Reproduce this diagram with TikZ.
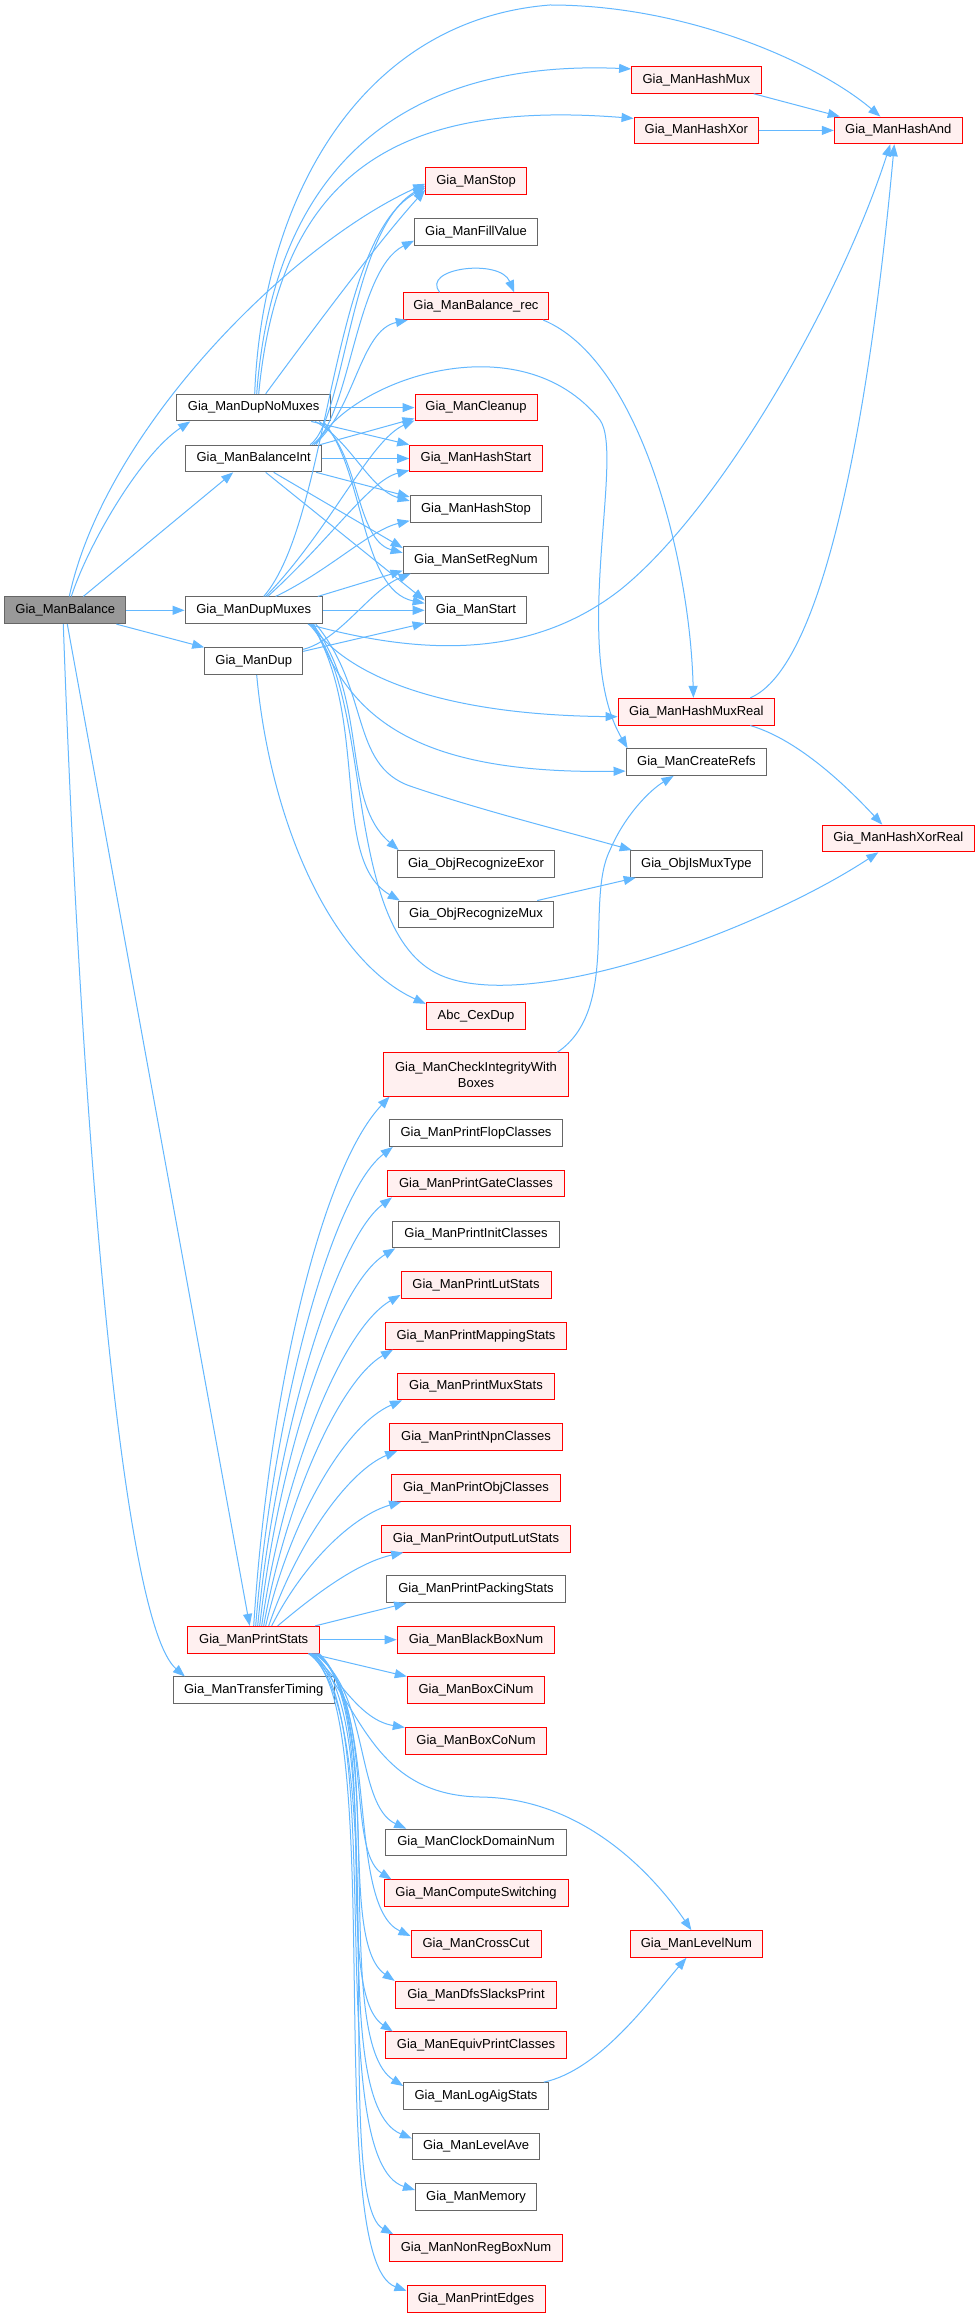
\documentclass[tikz,border=0pt]{standalone}
\usepackage{fontspec}
\setmainfont{Liberation Sans}
\usetikzlibrary{arrows.meta,calc}
\definecolor{ecol}{HTML}{63B8FF}
\definecolor{nred}{HTML}{FF0000}
\definecolor{npink}{HTML}{FFF0F0}
\definecolor{ngray}{HTML}{666666}
\definecolor{rootfill}{HTML}{999999}
\newcommand{\nodefont}{\fontsize{13}{16}\selectfont}
\begin{document}
\begin{tikzpicture}[x=1pt,y=-1pt,
  nd/.style={draw=ngray, fill=white, line width=1pt, minimum height=26.7pt, inner sep=0pt, font=\nodefont, text=black},
  rd/.style={nd, draw=nred, fill=npink},
  rootnd/.style={nd, fill=rootfill, draw=ngray},
  edg/.style={draw=ecol, line width=1pt, -{Triangle[length=12pt,width=9pt]}}]
\fill[white] (0,0) rectangle (979,2317);
\useasboundingbox (0,0) rectangle (979,2317);

% column 1 & 2
\node[rootnd, minimum width=121.3pt] (root) at (65.3,610.3) {Gia\_ManBalance};
\node[nd, minimum width=154pt] (dnm) at (253.7,407.6) {Gia\_ManDupNoMuxes};
\node[nd, minimum width=136pt] (bi) at (253.7,458.5) {Gia\_ManBalanceInt};
\node[nd, minimum width=137.3pt] (dm) at (253.7,610.3) {Gia\_ManDupMuxes};
\node[nd, minimum width=98pt] (dup) at (253.7,661.2) {Gia\_ManDup};
\node[rd, minimum width=132pt] (ps) at (253.7,1639.7) {Gia\_ManPrintStats};
\node[nd, minimum width=160.7pt] (tt) at (253.7,1690.3) {Gia\_ManTransferTiming};

% column 3
\node[rd, minimum width=100.6pt] (stop) at (476,180.8) {Gia\_ManStop};
\node[nd, minimum width=123pt] (fillv) at (476,231.7) {Gia\_ManFillValue};
\node[rd, minimum width=145.4pt] (brec) at (476,306.2) {Gia\_ManBalance\_rec};
\node[rd, minimum width=122pt] (clean) at (476,407.6) {Gia\_ManCleanup};
\node[rd, minimum width=132.6pt] (hstart) at (476,458.5) {Gia\_ManHashStart};
\node[nd, minimum width=131.7pt] (hstop) at (476,508.9) {Gia\_ManHashStop};
\node[nd, minimum width=145.7pt] (setreg) at (476,559.8) {Gia\_ManSetRegNum};
\node[nd, minimum width=101.7pt] (mstart) at (476,610.3) {Gia\_ManStart};
\node[nd, minimum width=157.7pt] (rexor) at (476,863.9) {Gia\_ObjRecognizeExor};
\node[nd, minimum width=155.4pt] (rmux) at (476,914.4) {Gia\_ObjRecognizeMux};
\node[rd, minimum width=99.7pt] (cex) at (476,1015.7) {Abc\_CexDup};
\node[rd, minimum width=185.7pt, minimum height=43.3pt, align=center] (cib) at (476,1074.4) {Gia\_ManCheckIntegrityWith\\Boxes};
\node[nd, minimum width=173.4pt] (flop) at (476,1133.1) {Gia\_ManPrintFlopClasses};
\node[rd, minimum width=177pt] (gate) at (476,1183.6) {Gia\_ManPrintGateClasses};
\node[nd, minimum width=166.6pt] (init) at (476,1234.5) {Gia\_ManPrintInitClasses};
\node[rd, minimum width=150pt] (lut) at (476,1284.9) {Gia\_ManPrintLutStats};
\node[rd, minimum width=181pt] (map) at (476,1335.8) {Gia\_ManPrintMappingStats};
\node[rd, minimum width=157pt] (pmux) at (476,1386.5) {Gia\_ManPrintMuxStats};
\node[rd, minimum width=172.6pt] (npn) at (476,1437.2) {Gia\_ManPrintNpnClasses};
\node[rd, minimum width=168.6pt] (obj) at (476,1488) {Gia\_ManPrintObjClasses};
\node[rd, minimum width=188.6pt] (olut) at (476,1538.7) {Gia\_ManPrintOutputLutStats};
\node[nd, minimum width=178.6pt] (pack) at (476,1589.3) {Gia\_ManPrintPackingStats};
\node[rd, minimum width=157.7pt] (bbox) at (476,1639.7) {Gia\_ManBlackBoxNum};
\node[rd, minimum width=137.4pt] (boxci) at (476,1690.3) {Gia\_ManBoxCiNum};
\node[rd, minimum width=141.4pt] (boxco) at (476,1741.3) {Gia\_ManBoxCoNum};
\node[nd, minimum width=180.6pt] (clk) at (476,1842.5) {Gia\_ManClockDomainNum};
\node[rd, minimum width=184pt] (csw) at (476,1893.3) {Gia\_ManComputeSwitching};
\node[rd, minimum width=130pt] (cut) at (476,1944) {Gia\_ManCrossCut};
\node[rd, minimum width=161.7pt] (dfs) at (476,1994.7) {Gia\_ManDfsSlacksPrint};
\node[rd, minimum width=181.4pt] (equiv) at (476,2045.3) {Gia\_ManEquivPrintClasses};
\node[nd, minimum width=144.6pt] (logaig) at (476,2096) {Gia\_ManLogAigStats};
\node[nd, minimum width=127.4pt] (lave) at (476,2146.5) {Gia\_ManLevelAve};
\node[nd, minimum width=121pt] (mem) at (476,2197) {Gia\_ManMemory};
\node[rd, minimum width=172.6pt] (nonreg) at (476,2248) {Gia\_ManNonRegBoxNum};
\node[rd, minimum width=138pt] (pedges) at (476,2298.7) {Gia\_ManPrintEdges};

% column 4
\node[rd, minimum width=129.6pt] (hmux) at (696.4,79.9) {Gia\_ManHashMux};
\node[rd, minimum width=124.7pt] (hxor) at (696.4,130.4) {Gia\_ManHashXor};
\node[rd, minimum width=156.7pt] (hmr) at (696.4,711.7) {Gia\_ManHashMuxReal};
\node[nd, minimum width=140.7pt] (cref) at (696.4,762.1) {Gia\_ManCreateRefs};
\node[nd, minimum width=132.4pt] (ismux) at (696.4,863.9) {Gia\_ObjIsMuxType};
\node[rd, minimum width=132.7pt] (lnum) at (696.4,1944) {Gia\_ManLevelNum};

% column 5
\node[rd, minimum width=128pt] (hand) at (898.3,130.4) {Gia\_ManHashAnd};
\node[rd, minimum width=151.7pt] (hxr) at (898.3,838.5) {Gia\_ManHashXorReal};

% ---- edges from root
\draw[edg] ($(root.north)+(6,0)$) .. controls (88,545) and (140,455) .. ($(dnm.south west)+(14,0)$);
\draw[edg] ($(root.north)+(18,0)$) -- ($(bi.south west)+(48,0)$);
\draw[edg] (root) -- (dm);
\draw[edg] ($(root.south east)+(-10,0)$) -- (dup.north west);
\draw[edg] ($(root.north)+(4,0)$) .. controls (105,430) and (290,245) .. ($(stop.west)+(0,3)$);
\draw[edg] ($(root.south)+(2,0)$) -- ($(ps.north)+(-4,0)$);
\draw[edg] ($(root.south)+(-2,0)$) .. controls (80,1100) and (120,1620) .. ($(tt.north west)+(12,0)$);

% ---- Gia_ManDupNoMuxes
\draw[edg] ($(dnm.north)+(1,0)$) .. controls (262,200) and (360,20) .. (550,5) .. controls (690,5) and (820,65) .. ($(hand.north)+(-18,0)$);
\draw[edg] ($(dnm.north)+(3,0)$) .. controls (275,150) and (420,60) .. ($(hmux.west)+(0,-11)$);
\draw[edg] ($(dnm.north)+(5,0)$) .. controls (280,170) and (400,100) .. ($(hxor.west)+(0,-12)$);
\draw[edg] ($(dnm.north)+(12,0)$) .. controls (320,320) and (380,240) .. ($(stop.west)+(0,9)$);
\draw[edg] (dnm) -- (clean);
\draw[edg] ($(dnm.south east)+(-20,0)$) -- (hstart.north west);
\draw[edg] ($(dnm.south east)+(-16,0)$) .. controls (350,440) and (370,490) .. ($(hstop.west)+(0,-8)$);
\draw[edg] ($(dnm.south east)+(-12,0)$) .. controls (360,450) and (355,540) .. ($(setreg.west)+(0,-7)$);
\draw[edg] ($(dnm.south east)+(-8,0)$) .. controls (365,470) and (360,590) .. ($(mstart.west)+(0,-7)$);

% ---- Gia_ManBalanceInt
\draw[edg] ($(bi.north east)+(-12,0)$) .. controls (345,420) and (350,230) .. ($(stop.west)+(0,5)$);
\draw[edg] ($(bi.north east)+(-10,0)$) .. controls (350,420) and (355,270) .. ($(fillv.west)+(0,9)$);
\draw[edg] ($(bi.north east)+(-8,0)$) .. controls (355,410) and (360,330) .. ($(brec.south west)+(5,0)$);
\draw[edg] ($(bi.north east)+(-6,0)$) .. controls (350,380) and (520,320) .. (600,420) .. controls (625,455) and (570,650) .. ($(cref.north west)+(2,0)$);
\draw[edg] ($(bi.north east)+(-2,0)$) -- ($(clean.south west)+(0,-3)$);
\draw[edg] (bi) -- (hstart);
\draw[edg] ($(bi.south east)+(-6,0)$) -- ($(hstop.west)+(0,-12)$);
\draw[edg] ($(bi.south)+(20,0)$) -- ($(setreg.north west)+(0,2)$);
\draw[edg] ($(bi.south)+(12,0)$) -- ($(mstart.north west)+(0,4)$);

% ---- Gia_ManDupMuxes
\draw[edg] ($(dm.north)+(10,0)$) .. controls (330,520) and (330,240) .. ($(stop.west)+(0,7)$);
\draw[edg] ($(dm.north)+(12,0)$) .. controls (330,530) and (370,440) .. ($(clean.south west)+(0,-1)$);
\draw[edg] ($(dm.north)+(14,0)$) .. controls (330,540) and (370,480) .. ($(hstart.south west)+(0,-2)$);
\draw[edg] ($(dm.north)+(22,0)$) .. controls (330,570) and (370,530) .. ($(hstop.south west)+(0,-2)$);
\draw[edg] ($(dm.north east)+(-5,0)$) -- ($(setreg.south west)+(0,-3)$);
\draw[edg] (dm) -- (mstart);
\draw[edg] ($(dm.south east)+(-15,0)$) .. controls (420,655) and (530,660) .. (620,590) .. controls (720,510) and (840,300) .. ($(hand.south)+(-8,0)$);
\draw[edg] ($(dm.south east)+(-12,0)$) .. controls (350,680) and (450,715) .. ($(hmr.west)+(0,5)$);
\draw[edg] ($(dm.south east)+(-9,0)$) .. controls (345,700) and (390,775) .. ($(cref.west)+(0,9)$);
\draw[edg] ($(dm.south east)+(-7,0)$) .. controls (370,690) and (350,765) .. (410,786) .. controls (480,810) and (560,830) .. ($(ismux.north west)+(2,0)$);
\draw[edg] ($(dm.south east)+(-10,0)$) .. controls (370,700) and (340,800) .. ($(rexor.north west)+(2,0)$);
\draw[edg] ($(dm.south east)+(-11,0)$) .. controls (370,720) and (330,860) .. ($(rmux.north west)+(2,0)$);
\draw[edg] ($(dm.south east)+(-14,0)$) .. controls (375,690) and (340,930) .. (440,975) .. controls (530,1015) and (760,930) .. ($(hxr.south)+(-20,0)$);

% ---- Gia_ManDup
\draw[edg] ($(dup.north east)+(0,2)$) .. controls (340,640) and (370,590) .. ($(setreg.south west)+(8,0)$);
\draw[edg] ($(dup.north east)+(0,4)$) -- ($(mstart.south west)+(0,-1)$);
\draw[edg] ($(dup.south)+(3,0)$) .. controls (270,820) and (330,960) .. ($(cex.north west)+(0,2)$);

% ---- misc
\draw[edg] ($(brec.north west)+(37,0)$) .. controls (420,268) and (500,258) .. ($(brec.north east)+(-35,0)$);
\draw[edg] ($(brec.south east)+(-6,0)$) .. controls (640,360) and (690,560) .. ($(hmr.north)+(-3,0)$);
\draw[edg] ($(hmux.south east)+(-8,0)$) -- ($(hand.north west)+(6,0)$);
\draw[edg] (hxor) -- (hand);
\draw[edg] ($(hmr.north east)+(-25,0)$) .. controls (840,660) and (880,300) .. ($(hand.south)+(-4,0)$);
\draw[edg] ($(hmr.south east)+(-25,0)$) .. controls (800,740) and (850,790) .. ($(hxr.north)+(-16,0)$);
\draw[edg] ($(rmux.north east)+(-17,0)$) -- ($(ismux.south west)+(6,0)$);
\draw[edg] ($(cib.north east)+(-12,0)$) .. controls (620,1010) and (585,900) .. (610,850) .. controls (625,815) and (650,790) .. ($(cref.south west)+(48,0)$);
\draw[edg] ($(logaig.north east)+(-5,0)$) .. controls (600,2070) and (650,2000) .. ($(lnum.south)+(-10,0)$);

% ---- Gia_ManPrintStats upper
\draw[edg] (ps.north) .. controls (268,1400) and (320,1170) .. ($(cib.south west)+(7,0)$);
\draw[edg] ($(ps.north)+(2,0)$) .. controls (272,1420) and (330,1195) .. ($(flop.south west)+(4,0)$);
\draw[edg] ($(ps.north)+(4,0)$) .. controls (275,1440) and (335,1240) .. ($(gate.south west)+(5,0)$);
\draw[edg] ($(ps.north)+(6,0)$) .. controls (278,1460) and (335,1285) .. ($(init.south west)+(3,0)$);
\draw[edg] ($(ps.north)+(8,0)$) .. controls (282,1480) and (340,1330) .. ($(lut.west)+(0,10)$);
\draw[edg] ($(ps.north)+(10,0)$) .. controls (286,1500) and (340,1380) .. ($(map.south west)+(8,0)$);
\draw[edg] ($(ps.north)+(12,0)$) .. controls (290,1520) and (345,1425) .. ($(pmux.south west)+(5,0)$);
\draw[edg] ($(ps.north)+(15,0)$) .. controls (298,1540) and (350,1470) .. ($(npn.south west)+(8,0)$);
\draw[edg] ($(ps.north)+(18,0)$) .. controls (305,1560) and (355,1515) .. ($(obj.south west)+(10,0)$);
\draw[edg] ($(ps.north)+(24,0)$) .. controls (320,1590) and (360,1562) .. ($(olut.south west)+(22,0)$);
\draw[edg] ($(ps.north east)+(-5,0)$) -- ($(pack.south west)+(20,0)$);
\draw[edg] (ps) -- (bbox);

% ---- Gia_ManPrintStats lower
\draw[edg] ($(ps.south east)+(-10,0)$) -- (boxci.north west);
\draw[edg] ($(ps.south east)+(-8,0)$) .. controls (340,1680) and (360,1720) .. (boxco.north west);
\draw[edg] ($(ps.south east)+(-10,0)$) .. controls (360,1700) and (370,1795) .. (480,1797) .. controls (580,1798) and (650,1870) .. ($(lnum.north)+(-5,0)$);
\draw[edg] ($(ps.south east)+(-6,0)$) .. controls (370,1690) and (355,1805) .. ($(clk.north west)+(21,0)$);
\draw[edg] ($(ps.south east)+(-5,0)$) .. controls (375,1695) and (345,1850) .. ($(csw.north west)+(8,0)$);
\draw[edg] ($(ps.south east)+(-4,0)$) .. controls (380,1700) and (345,1905) .. ($(cut.west)+(0,-8)$);
\draw[edg] ($(ps.south east)+(-3,0)$) .. controls (385,1710) and (335,1940) .. (dfs.north west);
\draw[edg] ($(ps.south east)+(-2,0)$) .. controls (385,1715) and (330,1990) .. ($(equiv.north west)+(8,0)$);
\draw[edg] ($(ps.south east)+(-1,0)$) .. controls (390,1720) and (330,2040) .. ($(logaig.west)+(0,-10)$);
\draw[edg] ($(ps.south east)+(-7,0)$) .. controls (395,1720) and (320,2100) .. ($(lave.west)+(0,-8)$);
\draw[edg] ($(ps.south east)+(-9,0)$) .. controls (390,1710) and (320,2160) .. ($(mem.west)+(0,-7)$);
\draw[edg] ($(ps.south east)+(-11,0)$) .. controls (395,1720) and (330,2200) .. ($(nonreg.north west)+(4,0)$);
\draw[edg] ($(ps.south east)+(-12,0)$) .. controls (390,1700) and (320,2260) .. ($(pedges.west)+(0,-8)$);
\end{tikzpicture}
\end{document}
